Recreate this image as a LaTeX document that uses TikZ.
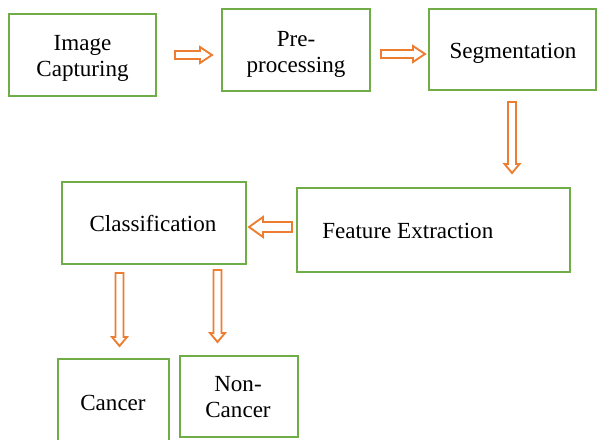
\documentclass[tikz,border=0pt]{standalone}
\usepackage{fontspec}
\setmainfont{Liberation Serif}
\def\px{0.75pt}
\definecolor{boxgreen}{HTML}{70AD47}
\definecolor{arroworange}{HTML}{ED7D31}
\tikzset{
  box/.style={draw=boxgreen, line width=2pt, fill=white, inner sep=0pt},
  % labels sit on the baseline of their last line
  lbl/.style={anchor=base, align=center, inner sep=0pt,
    font=\fontsize{17.3}{19}\selectfont},
  arrowline/.style={draw=arroworange, line width=1.4pt, fill=white, line join=miter},
  % hollow block arrow pointing along +x: length, head length, shaft half width, head half width
  pics/blockarrow/.style n args={4}{code={
    \draw[arrowline] (0,-#3) -- ({#1-#2},-#3) -- ({#1-#2},-#4) -- (#1,0)
      -- ({#1-#2},#4) -- ({#1-#2},#3) -- (0,#3) -- cycle;
  }}
}
\begin{document}
\begin{tikzpicture}[x=0.75pt, y=-0.75pt]
  \useasboundingbox (0,0) rectangle (598,439);
  \clip (0,0) rectangle (598,439);

  % process boxes
  \node[box, minimum width=147*\px, minimum height=82*\px] (cap) at (82.5,55) {};
  \node[box, minimum width=148*\px, minimum height=82*\px] (pre) at (296,50) {};
  \node[box, minimum width=167*\px, minimum height=81*\px] (seg) at (512.5,49.5) {};
  \node[box, minimum width=273*\px, minimum height=84*\px] (feat) at (433.5,230) {};
  \node[box, minimum width=184*\px, minimum height=82*\px] (cls) at (154,223) {};
  \node[box, minimum width=111*\px, minimum height=87*\px] (can) at (113.5,402.5) {};
  \node[box, minimum width=118*\px, minimum height=81*\px] (non) at (239,396.5) {};

  % box texts
  \node[lbl] (capt) at (82.5,76) {Image\\Capturing};
  \node[lbl] (pret) at (296,72) {Pre-\\processing};
  \node[lbl] (segt) at (513,58) {Segmentation};
  \node[lbl, anchor=base west] (featt) at (322,238) {Feature Extraction};
  \node[lbl] (clst) at (153,231) {Classification};
  \node[lbl] (cant) at (113,410) {Cancer};
  \node[lbl] (nont) at (238,417) {Non-\\Cancer};

  % block arrows between the stages
  \pic at (175,55) {blockarrow={37}{12}{4}{8}};
  \pic at (381,54) {blockarrow={44}{12}{4}{8}};
  \pic[rotate=-90] at (512,102) {blockarrow={71}{9}{4}{7.5}};
  \pic[rotate=180] at (292,227) {blockarrow={43}{14}{5}{10}};
  \pic[rotate=-90] at (119.5,273) {blockarrow={73}{9}{4}{7.5}};
  \pic[rotate=-90] at (217.5,270) {blockarrow={72}{9}{4}{7.5}};
\end{tikzpicture}
\end{document}
